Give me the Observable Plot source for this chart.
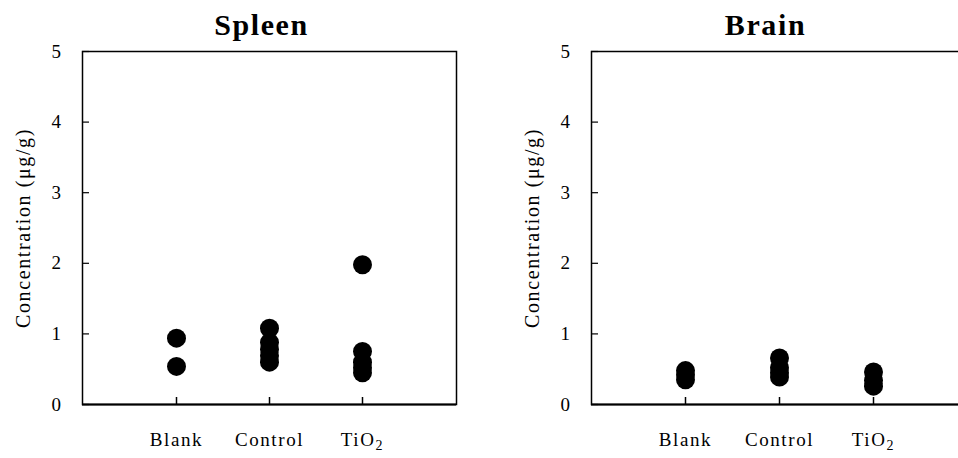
<!DOCTYPE html>
<html>
<head>
<meta charset="utf-8">
<script src="https://cdn.jsdelivr.net/npm/d3@7"></script>
<script src="https://cdn.jsdelivr.net/npm/@observablehq/plot@0.6"></script>
<style>
  html, body { margin: 0; padding: 0; background: #fff; }
  #wrap { position: relative; width: 958px; height: 458px; overflow: hidden; background: #fff; }
  #wrap svg { position: absolute; top: 0; }
</style>
</head>
<body>
<div id="wrap"></div>
<script>
// ---- data ----
const categories = ["Blank", "Control", "TiO₂"];
const yTicks = [0, 1, 2, 3, 4, 5];
const yLabel = "Concentration (μg/g)";

const spleenBlank   = [0.94, 0.54];
const spleenControl = [1.08, 0.88, 0.78, 0.69, 0.60];
const spleenTiO2    = [1.98, 0.75, 0.60, 0.52, 0.45];

const brainBlank    = [0.48, 0.42, 0.35];
const brainControl  = [0.66, 0.52, 0.45, 0.39];
const brainTiO2     = [0.46, 0.34, 0.26];

function toRows(groups) {
  const rows = [];
  groups.forEach((vals, i) => vals.forEach(v => rows.push({group: categories[i], value: v})));
  return rows;
}

const panels = [
  {title: "Spleen", rows: toRows([spleenBlank, spleenControl, spleenTiO2]),
   left: 0, width: 480, marginLeft: 82, marginRight: 24, titleDx: -8},
  {title: "Brain", rows: toRows([brainBlank, brainControl, brainTiO2]),
   left: 480, width: 500, marginLeft: 111, marginRight: 13, titleDx: -14}
];

const wrap = document.getElementById("wrap");

for (const p of panels) {
  const svg = Plot.plot({
    width: p.width,
    height: 458,
    marginLeft: p.marginLeft,
    marginRight: p.marginRight,
    marginTop: 51,
    marginBottom: 54,
    style: {
      fontFamily: "'Liberation Serif', 'Times New Roman', serif",
      fontSize: "19px",
      letterSpacing: "1.6px",
      background: "white",
      color: "black",
      overflow: "visible"
    },
    x: {type: "point", domain: categories, padding: 1},
    y: {domain: [0, 5]},
    marks: [
      Plot.frame({stroke: "black", strokeWidth: 1.5}),
      Plot.ruleY([0], {stroke: "black", strokeWidth: 2}),
      Plot.axisY({ticks: yTicks, tickFormat: d3.format("d"), tickSize: -7, tickPadding: 27, label: null, fontSize: 19, strokeWidth: 1.2}),
      Plot.axisX({tickSize: -7, tickPadding: 35, label: null, fontSize: 19, strokeWidth: 1.5}),
      Plot.dot(p.rows, {x: "group", y: "value", r: 9.5, fill: "black", stroke: "none"}),
      Plot.text([p.title], {frameAnchor: "top", lineAnchor: "middle", dy: -26, dx: p.titleDx, fontSize: 30, fontWeight: "bold", fill: "black"}),
      Plot.text([yLabel], {frameAnchor: "left", textAnchor: "middle", lineAnchor: "middle", rotate: -90, dx: -59, fontSize: 20, fill: "black"})
    ]
  });
  svg.style.left = p.left + "px";
  // subscript for TiO₂
  svg.querySelectorAll("text").forEach(t => {
    if (t.textContent === "TiO₂") {
      t.textContent = "TiO";
      const ts = document.createElementNS("http://www.w3.org/2000/svg", "tspan");
      ts.setAttribute("dy", "0.3em");
      ts.setAttribute("font-size", "14");
      ts.textContent = "2";
      t.appendChild(ts);
    }
  });
  wrap.appendChild(svg);
}
</script>
</body>
</html>
